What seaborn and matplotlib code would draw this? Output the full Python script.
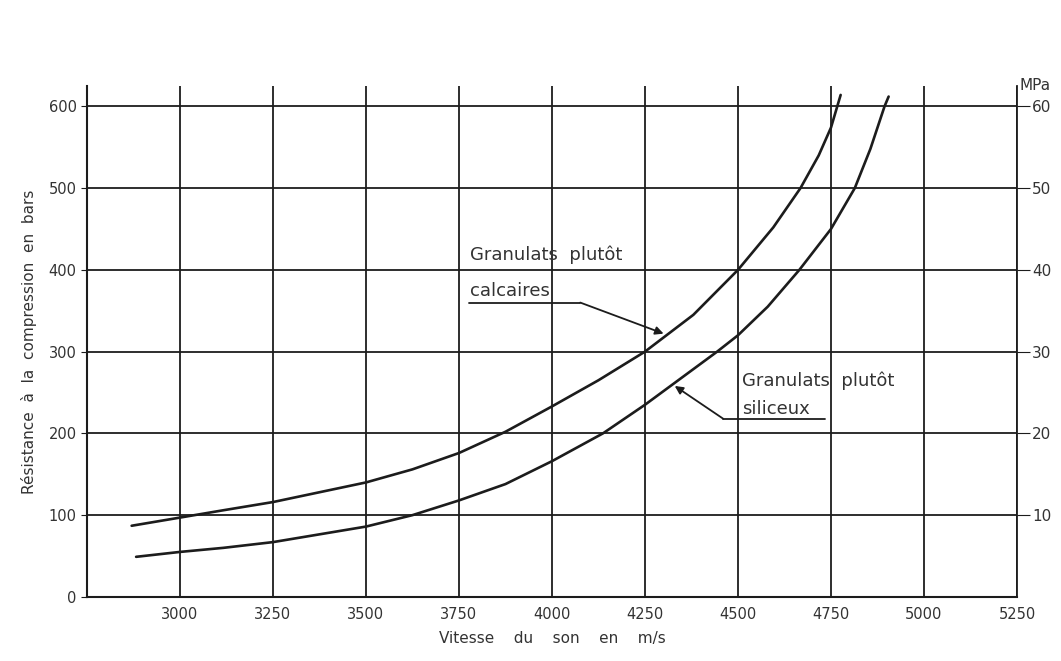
import pandas as pd
import matplotlib
matplotlib.use("Agg")
import matplotlib.pyplot as plt
import seaborn as sns

calc_v = [2870, 3000, 3117, 3250, 3500, 3625, 3750, 3875, 4000, 4125, 4250, 4380, 4500, 4595, 4668, 4717, 4750, 4776]
calc_r = [87, 97, 106, 116, 140, 156, 176, 202, 233, 265, 300, 345, 400, 452, 500, 540, 574, 614]
sili_v = [2882, 3000, 3117, 3250, 3500, 3625, 3750, 3875, 4000, 4137, 4250, 4444, 4500, 4580, 4665, 4750, 4814, 4856, 4894, 4905]
sili_r = [49, 55, 60, 67, 86, 100, 118, 138, 166, 200, 235, 300, 320, 355, 400, 450, 500, 548, 600, 612]

x_ticks = [3000, 3250, 3500, 3750, 4000, 4250, 4500, 4750, 5000, 5250]
y_ticks = [0, 100, 200, 300, 400, 500, 600]
mpa_ticks = [10, 20, 30, 40, 50, 60]

df = pd.concat([
    pd.DataFrame({'v': calc_v, 'r': calc_r, 'granulats': 'calcaires'}),
    pd.DataFrame({'v': sili_v, 'r': sili_r, 'granulats': 'siliceux'}),
])

sns.set_style("white")
plt.rcParams['font.family'] = ['DejaVu Sans']
ink = '#1c1c1c'

fig = plt.figure(figsize=(10.61, 6.61), dpi=100)
ax = fig.add_axes([0.082, 0.097, 0.8765, 0.773])

# quadrillage
for xv in [2750] + x_ticks:
    ax.axvline(xv, color=ink, lw=1.3, zorder=1)
for yv in y_ticks[1:]:
    ax.axhline(yv, color=ink, lw=1.3, zorder=1)

sns.lineplot(data=df, x='v', y='r', units='granulats', estimator=None,
             color=ink, lw=1.9, sort=False, ax=ax, zorder=3)

ax.set_xlim(2750, 5250)
ax.set_ylim(0, 625)
ax.set_xticks(x_ticks)
ax.set_yticks(y_ticks)
ax.tick_params(axis='both', length=4, color=ink, labelsize=10.5, labelcolor='#333333')
for s in ['top', 'right']:
    ax.spines[s].set_visible(False)
for s in ['left', 'bottom']:
    ax.spines[s].set_color(ink)
    ax.spines[s].set_linewidth(1.5)

ax.set_xlabel('Vitesse    du    son    en    m/s', fontsize=11, color='#333333', labelpad=6)
ax.set_ylabel('Résistance  à  la  compression  en  bars', fontsize=11, color='#333333', labelpad=8)

# axe en MPa
ax2 = ax.twinx()
ax2.set_ylim(0, 62.5)
ax2.set_yticks(mpa_ticks)
ax2.tick_params(axis='y', length=9, color=ink, labelsize=11, labelcolor='#333333', pad=2)
for s in ['top', 'left', 'bottom']:
    ax2.spines[s].set_visible(False)
ax2.spines['right'].set_color(ink)
ax2.spines['right'].set_linewidth(1.3)
ax2.text(1.003, 1.0, 'MPa', transform=ax2.transAxes, fontsize=11, color='#333333',
         ha='left', va='center')

arrow = dict(arrowstyle='-|>', color=ink, lw=1.3, mutation_scale=12, shrinkA=0, shrinkB=0)

# étiquettes des courbes
ax.text(3780, 418, 'Granulats  plutôt', fontsize=13, color='#333333', va='center')
ax.text(3780, 374, 'calcaires', fontsize=13, color='#333333', va='center')
ax.plot([3776, 4076], [360, 360], color=ink, lw=1.3)
ax.annotate('', xy=(4300, 322), xytext=(4076, 360), arrowprops=arrow)

ax.text(4510, 264, 'Granulats  plutôt', fontsize=13, color='#333333', va='center')
ax.text(4510, 230, 'siliceux', fontsize=13, color='#333333', va='center')
ax.plot([4460, 4735], [218, 218], color=ink, lw=1.3)
ax.annotate('', xy=(4330, 258), xytext=(4460, 218), arrowprops=arrow)

fig.savefig('out.png', dpi=100)
